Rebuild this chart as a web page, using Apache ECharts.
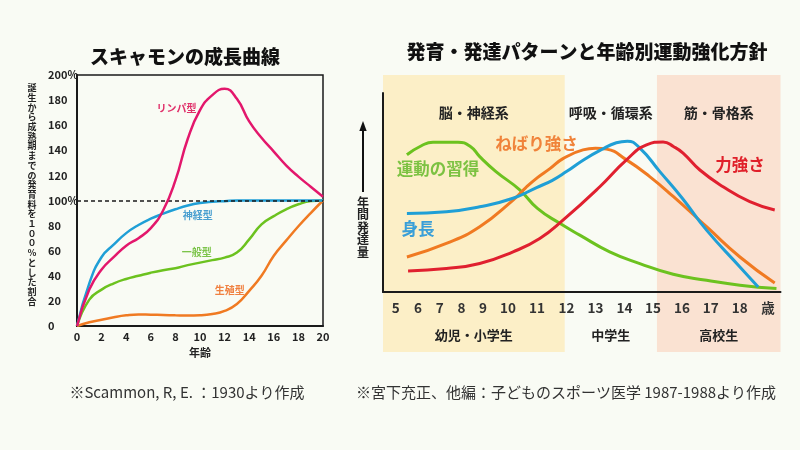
<!DOCTYPE html>
<html><head><meta charset="utf-8">
<script src="https://cdn.jsdelivr.net/npm/echarts@6/dist/echarts.min.js"></script>
<style>html,body{margin:0;padding:0;background:#f9fbf4;}#c{width:800px;height:450px;}</style>
</head><body><div id="c"></div>
<script>
const FONT = "'Noto Sans CJK JP', 'Noto Sans', sans-serif";

// ---- Left chart: Scammon growth curves (x = age, y = % of adult size) ----
const scammonAges = [0,1,2,3,4,5,6,7,8,9,10,11,12,13,14,15,16,17,18,19,20];
const lymphoid = [0,29,45,55,64,70,78,92,116,149,172,184,189,181,163,150,139,128,119,111,103];
const neural   = [0,34,55,65,74,80.5,85.5,89.5,93,96,98,99,99.5,100,100,100,100,100,100,100,100];
const general  = [0,21,29,34,37.5,40,42.5,44.5,46,48.5,50.5,52.5,54.5,58.5,69,81,87.5,93,97,99.5,100];
const genital  = [0,3,5,7,8.5,9.2,9,8.8,8.5,8.3,8.5,9.5,12,17.5,28,40,56,68,79.5,90,100];
const scammonNames = ['リンパ型','神経型','一般型','生殖型'];

// ---- Right chart: development patterns (x = nominal age position, y = relative annual development) ----
const motorSkill = [[6.5,69],[7.0,73.5],[7.4,75.3],[8.26,75.3],[8.7,73],[9.01,68],[9.57,60.5],[10.39,51.3],[11.0,42],[11.77,34.5],[12.46,28.6],[13.49,20.2],[14.53,14.3],[15.68,8.9],[16.83,5.9],[17.98,3.4],[19.24,1.7]];
const endurance  = [[6.5,17.6],[7.86,24.4],[9.01,32.8],[10.16,46.2],[10.6,52.5],[11.0,57.5],[11.43,62],[11.88,67],[12.57,71.4],[13.0,72.2],[13.38,71.8],[14.07,66.4],[14.87,58],[15.68,48],[16.83,32.8],[17.98,17.6],[19.18,4.5]];
const height     = [[6.5,39.5],[7.86,40.3],[9.01,42.8],[10.16,47.1],[10.97,52.5],[11.5,56],[12.0,60.5],[12.6,66.5],[13.2,71.5],[13.72,75],[14.1,75.8],[14.53,72.3],[15.22,60.5],[16.0,47],[16.83,31.1],[17.98,12.6],[18.61,2.5]];
const strength   = [[6.54,10.6],[7.86,11.8],[9.01,14.3],[10.16,20.2],[11.08,26.9],[11.88,36.1],[13.15,52.9],[14.07,66.4],[14.76,73.9],[15.33,75.4],[15.7,73],[16.02,69.8],[16.6,61.3],[17.4,52.9],[18.32,45.4],[19.18,41.2]];
const rightNames = ['運動の習得','ねばり強さ','身長','力強さ'];
const rightTickPos = [6.114,6.883,7.631,8.379,9.124,9.986,10.986,12,13,14,14.986,15.986,16.976,17.976,18.952];
const rightTickLabels = ['5','6','7','8','9','10','11','12','13','14','15','16','17','18','歳'];
const bandEdges = [5.676, 11.94, 15.12, 19.379];
const systemNames = ['脳・神経系','呼吸・循環系','筋・骨格系'];
const stageNames = ['幼児・小学生','中学生','高校生'];

const chart = echarts.init(document.getElementById('c'));
const pair = (xs, ys) => xs.map((x, i) => [x, ys[i]]);

const leftColors = ['#e3176c','#1f9fd6','#6cc21f','#f07a22'];
const rightColors = ['#6cc21f','#f07a22','#1f9fd6','#e0202f'];
const lineBase = { type: 'line', smooth: 0.5, showSymbol: false };

const option = {
  backgroundColor: '#f9fbf4',
  animation: false,
  textStyle: { fontFamily: FONT },
  grid: [
    { left: 77, top: 75, width: 246, height: 251, show: true, borderColor: '#1a1a1a', borderWidth: 1.5, backgroundColor: 'transparent' },
    { left: 383, top: 93, width: 397.5, height: 199 }
  ],
  xAxis: [
    { gridIndex: 0, type: 'value', min: 0, max: 20, interval: 2,
      axisLine: { lineStyle: { color: '#1a1a1a', width: 2 } }, axisTick: { show: false }, splitLine: { show: false },
      axisLabel: { color: '#222', fontSize: 11, fontWeight: 'bold', margin: 5, fontFamily: FONT },
      name: '年齢', nameLocation: 'middle', nameGap: 20,
      nameTextStyle: { color: '#222', fontSize: 11, fontWeight: 'bold', fontFamily: FONT } },
    { gridIndex: 1, type: 'value', min: bandEdges[0], max: bandEdges[3],
      axisLine: { lineStyle: { color: '#1a1a1a', width: 2 } }, axisTick: { show: false }, splitLine: { show: false },
      axisLabel: { customValues: rightTickPos, color: '#333', fontSize: 13.5, fontWeight: 'bold', margin: 9, fontFamily: FONT,
        formatter: v => { const i = rightTickPos.findIndex(p => Math.abs(p - v) < 1e-6); return i >= 0 ? rightTickLabels[i] : ''; } } }
  ],
  yAxis: [
    { gridIndex: 0, type: 'value', min: 0, max: 200, interval: 20,
      axisLine: { show: true, lineStyle: { color: '#1a1a1a', width: 2 } }, axisTick: { show: false }, splitLine: { show: false },
      axisLabel: { align: 'left', margin: 29, color: '#222', fontSize: 11, fontWeight: 'bold', fontFamily: FONT,
        formatter: v => (v === 100 || v === 200) ? v + '%' : String(v) } },
    { gridIndex: 1, type: 'value', min: 0, max: 100,
      axisLine: { show: true, lineStyle: { color: '#1a1a1a', width: 2 } }, axisTick: { show: false },
      axisLabel: { show: false }, splitLine: { show: false } }
  ],
  series: [
    Object.assign({}, lineBase, { name: scammonNames[0], xAxisIndex: 0, yAxisIndex: 0, data: pair(scammonAges, lymphoid), lineStyle: { color: leftColors[0], width: 2.5 }, z: 5 }),
    Object.assign({}, lineBase, { name: scammonNames[1], xAxisIndex: 0, yAxisIndex: 0, data: pair(scammonAges, neural), lineStyle: { color: leftColors[1], width: 2.5 }, z: 4,
      markLine: { silent: true, symbol: 'none', label: { show: false }, lineStyle: { color: '#1a1a1a', type: [4, 3], width: 1.5 }, data: [{ yAxis: 100 }] } }),
    Object.assign({}, lineBase, { name: scammonNames[2], xAxisIndex: 0, yAxisIndex: 0, data: pair(scammonAges, general), lineStyle: { color: leftColors[2], width: 2.5 } }),
    Object.assign({}, lineBase, { name: scammonNames[3], xAxisIndex: 0, yAxisIndex: 0, data: pair(scammonAges, genital), lineStyle: { color: leftColors[3], width: 2.5 } }),
    Object.assign({}, lineBase, { name: rightNames[0], xAxisIndex: 1, yAxisIndex: 1, data: motorSkill, lineStyle: { color: rightColors[0], width: 3 } }),
    Object.assign({}, lineBase, { name: rightNames[1], xAxisIndex: 1, yAxisIndex: 1, data: endurance, lineStyle: { color: rightColors[1], width: 3 } }),
    Object.assign({}, lineBase, { name: rightNames[2], xAxisIndex: 1, yAxisIndex: 1, data: height, lineStyle: { color: rightColors[2], width: 3 } }),
    Object.assign({}, lineBase, { name: rightNames[3], xAxisIndex: 1, yAxisIndex: 1, data: strength, lineStyle: { color: rightColors[3], width: 3 } })
  ]
};
chart.setOption(option);

// ---- decorations / annotations ----
const toL = (x, y) => chart.convertToPixel({ gridIndex: 0 }, [x, y]);
const toR = (x, y) => chart.convertToPixel({ gridIndex: 1 }, [x, y]);
const txt = (text, x, y, size, color, weight, extra) => Object.assign({ type: 'text', x, y, z: 50,
  style: Object.assign({ text, fill: color, fontSize: size, fontWeight: weight || 'bold', fontFamily: FONT, align: 'center', verticalAlign: 'middle' }, extra || {}) });

const g = [];
// bands
const bx0 = toR(bandEdges[0], 0)[0], bx1 = toR(bandEdges[1], 0)[0], bx2 = toR(bandEdges[2], 0)[0], bx3 = toR(bandEdges[3], 0)[0];
g.push({ type: 'rect', z: -10, shape: { x: bx0, y: 75, width: bx1 - bx0, height: 277 }, style: { fill: '#fcefc7' } });
g.push({ type: 'rect', z: -10, shape: { x: bx2, y: 75, width: bx3 - bx2, height: 277 }, style: { fill: '#fae2d2' } });
const centers = [(bx0 + bx1) / 2, (bx1 + bx2) / 2, (bx2 + bx3) / 2];
systemNames.forEach((s, i) => g.push(txt(s, centers[i], 113, 14, '#222', 'bold')));
stageNames.forEach((s, i) => g.push(txt(s, centers[i], 335, 13, '#222', 'bold')));

// titles
g.push(txt('スキャモンの成長曲線', 185, 57, 19, '#111', '900'));
g.push(txt('発育・発達パターンと年齢別運動強化方針', 587, 52, 19, '#111', '900'));

// left y-axis title (vertical)
g.push({ type: 'text', x: 32, y: 83, z: 50, style: { text: '誕生から成熟期までの発育料を１００％とした割合'.split('').join('\n'), fill: '#222', fontSize: 9, lineHeight: 9.7, fontWeight: 'bold', fontFamily: FONT, align: 'center', verticalAlign: 'top' } });

// right y-axis title with arrow
g.push({ type: 'line', z: 50, shape: { x1: 363, y1: 192, x2: 363, y2: 128 }, style: { stroke: '#111', lineWidth: 2 } });
g.push({ type: 'polygon', z: 50, shape: { points: [[363, 121], [359.3, 131], [366.7, 131]] }, style: { fill: '#111' } });
g.push({ type: 'text', x: 363, y: 196, z: 50, style: { text: '年間発達量'.split('').join('\n'), fill: '#222', fontSize: 12, lineHeight: 12.5, fontWeight: 'bold', fontFamily: FONT, align: 'center', verticalAlign: 'top' } });

// left curve labels
const leftLabelAnchors = [[8.08, 173.5], [9.81, 88.4], [9.73, 59], [12.41, 28.7]];
const leftLabelColors = ['#e0306a', '#4a9fd0', '#7cc44a', '#f08040'];
scammonNames.forEach((n, i) => { const p = toL(leftLabelAnchors[i][0], leftLabelAnchors[i][1]); g.push(txt(n, p[0], p[1], 10, leftLabelColors[i], 'bold')); });

// right curve labels
const rightLabelAnchors = [[7.57, 61.7], [10.97, 74.3], [6.88, 31.6], [17.98, 63.9]];
const rightLabelColors = ['#7cc242', '#f0833a', '#3a9fd8', '#e0202a'];
rightNames.forEach((n, i) => { const p = toR(rightLabelAnchors[i][0], rightLabelAnchors[i][1]); g.push(txt(n, p[0], p[1], 16.5, rightLabelColors[i], 'bold')); });

// footers
g.push(txt('※Scammon, R, E. ：1930より作成', 187, 392, 15, '#333', 'normal'));
g.push(txt('※宮下充正、他編：子どものスポーツ医学 1987-1988より作成', 566, 392, 15, '#333', 'normal'));

chart.setOption({ graphic: g });
</script></body></html>
